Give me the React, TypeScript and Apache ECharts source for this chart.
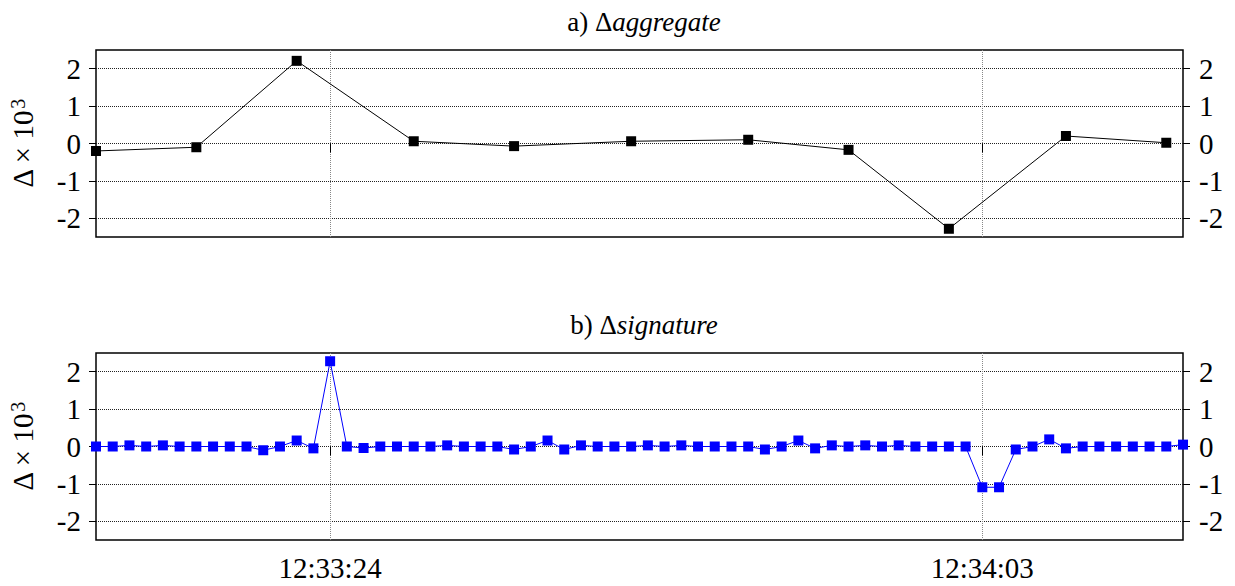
import React, { useEffect, useRef } from 'react';
import * as echarts from 'echarts';

// One category per second, 12:33:10 … 12:34:15
const clockStart = { h: 12, m: 33, s: 10 };
const secondsShown = 66;
const pad = (n: number) => String(n).padStart(2, '0');
const timeCategories: string[] = [];
for (let k = 0; k < secondsShown; k++) {
  const total = clockStart.h * 3600 + clockStart.m * 60 + clockStart.s + k;
  timeCategories.push(
    `${pad(Math.floor(total / 3600))}:${pad(Math.floor((total % 3600) / 60))}:${pad(total % 60)}`
  );
}

const timeTickLabels = ['12:33:24', '12:34:03'];
const yTickValues = [-2, -1, 0, 1, 2];

// a) Δaggregate samples
const aggregateTimes = [
  '12:33:10', '12:33:16', '12:33:22', '12:33:29', '12:33:35', '12:33:42',
  '12:33:49', '12:33:55', '12:34:01', '12:34:08', '12:34:14',
];
const aggregateValues = [-0.2, -0.1, 2.21, 0.06, -0.07, 0.06, 0.1, -0.17, -2.28, 0.2, 0.02];

// b) Δsignature, one sample per second
const signatureValues = [
  0, 0, 0.03, 0, 0.03, 0, 0, 0, 0, 0,
  -0.1, 0, 0.16, -0.05, 2.28, 0, -0.04, 0, 0, 0,
  0, 0.03, 0, 0, 0, -0.08, 0, 0.16, -0.08, 0.03,
  0, 0, 0, 0.03, 0, 0.03, 0, 0, 0, 0,
  -0.08, 0, 0.16, -0.05, 0.03, 0, 0.03, 0, 0.03, 0,
  0, 0, 0, -1.09, -1.09, -0.08, 0, 0.19, -0.05, 0,
  0, 0, 0, 0, 0, 0.05,
];

const FONT = 'Liberation Serif, DejaVu Serif, serif';
const FS = 29;

const isMarked = (_i: number, v: string) => timeTickLabels.includes(v);

const xAxisFor = (gridIndex: number, labelled: boolean) => ({
  type: 'category',
  gridIndex,
  data: timeCategories,
  boundaryGap: false,
  axisLine: { show: false },
  axisTick: { show: true, length: 9, interval: isMarked, lineStyle: { color: '#000', width: 1 } },
  axisLabel: {
    show: labelled,
    interval: isMarked,
    margin: 13,
    fontSize: FS,
    fontFamily: FONT,
    color: '#000',
  },
  splitLine: { show: true, interval: isMarked, lineStyle: { type: 'dotted', color: '#888', width: 1 } },
});

const yAxisFor = (gridIndex: number, position: 'left' | 'right') => ({
  type: 'value',
  gridIndex,
  position,
  min: -2.5,
  max: 2.5,
  axisLine: { show: false },
  axisTick: { show: true, length: 7, customValues: yTickValues, lineStyle: { color: '#000', width: 1 } },
  axisLabel: {
    customValues: yTickValues,
    margin: position === 'left' ? 15 : 16,
    fontSize: FS,
    fontFamily: FONT,
    color: '#000',
    formatter: (v: number) => String(v),
  },
  splitLine: { show: position === 'left', lineStyle: { type: 'dotted', color: '#222', width: 1 } },
  name: position === 'left' ? 'Δ × 10{s|3}' : '',
  nameLocation: 'middle',
  nameRotate: 90,
  nameGap: 58,
  nameTextStyle: {
    fontSize: FS,
    fontFamily: FONT,
    color: '#000',
    rich: { s: { fontSize: 20, fontFamily: FONT, color: '#000', verticalAlign: 'top', padding: [0, 0, 10, 1] } },
  },
});

const titleFor = (prefix: string, word: string, top: number) => ({
  text: `${prefix} Δ{i|${word}}`,
  left: 639,
  top,
  textAlign: 'center',
  textStyle: {
    fontSize: 27,
    fontWeight: 'normal',
    fontFamily: FONT,
    color: '#000',
    rich: { i: { fontSize: 27, fontStyle: 'italic', fontFamily: FONT, color: '#000' } },
  },
});

export default function App() {
  const ref = useRef<HTMLDivElement>(null);

  useEffect(() => {
    if (!ref.current) return;
    const chart = echarts.init(ref.current, undefined, { renderer: 'svg' });
    const gridBase = {
      left: 95,
      width: 1088,
      height: 187,
      show: true,
      borderColor: '#000',
      borderWidth: 1.5,
      backgroundColor: 'transparent',
    };
    chart.setOption({
      animation: false,
      backgroundColor: '#fff',
      textStyle: { fontFamily: FONT },
      title: [titleFor('a)', 'aggregate', 3), titleFor('b)', 'signature', 306)],
      grid: [
        { ...gridBase, top: 50 },
        { ...gridBase, top: 353 },
      ],
      xAxis: [xAxisFor(0, false), xAxisFor(1, true)],
      yAxis: [yAxisFor(0, 'left'), yAxisFor(0, 'right'), yAxisFor(1, 'left'), yAxisFor(1, 'right')],
      series: [
        {
          type: 'line',
          xAxisIndex: 0,
          yAxisIndex: 0,
          data: aggregateTimes.map((t, i) => [t, aggregateValues[i]]),
          symbol: 'rect',
          symbolSize: 10,
          lineStyle: { color: '#000', width: 1 },
          itemStyle: { color: '#000' },
          z: 5,
        },
        {
          type: 'line',
          xAxisIndex: 1,
          yAxisIndex: 2,
          data: signatureValues.map((v, i) => [timeCategories[i], v]),
          symbol: 'rect',
          symbolSize: 10,
          lineStyle: { color: '#0000ff', width: 1 },
          itemStyle: { color: '#0000ff' },
          z: 5,
        },
      ],
    });
    return () => chart.dispose();
  }, []);

  return (
    <div
      ref={ref}
      style={{ position: 'fixed', left: 0, top: 0, width: 1235, height: 586, background: '#fff' }}
    />
  );
}
